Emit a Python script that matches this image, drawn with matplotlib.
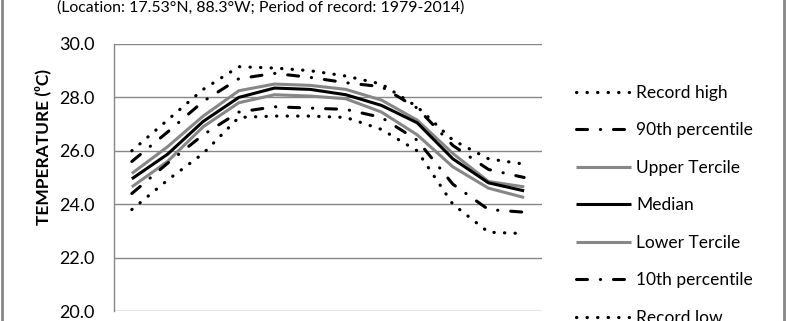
import matplotlib
matplotlib.use('Agg')
import matplotlib.pyplot as plt
from matplotlib.lines import Line2D

# monthly temperature climatology (deg C)
months = ['Jan', 'Feb', 'Mar', 'Apr', 'May', 'Jun',
          'Jul', 'Aug', 'Sep', 'Oct', 'Nov', 'Dec']
record_high = [26.0, 27.15, 28.3, 29.15, 29.1, 29.0, 28.8, 28.5, 27.65, 26.4, 25.7, 25.5]
p90 = [25.6, 26.7, 27.85, 28.7, 28.9, 28.75, 28.55, 28.4, 27.6, 26.2, 25.3, 25.0]
upper_tercile = [25.15, 26.15, 27.3, 28.25, 28.5, 28.45, 28.3, 27.9, 27.15, 25.9, 24.85, 24.65]
median = [24.95, 25.87, 27.1, 28.0, 28.35, 28.3, 28.1, 27.7, 27.05, 25.7, 24.8, 24.5]
lower_tercile = [24.65, 25.6, 26.9, 27.8, 28.1, 28.05, 27.95, 27.45, 26.6, 25.4, 24.6, 24.25]
p10 = [24.4, 25.53, 26.6, 27.45, 27.65, 27.6, 27.55, 27.25, 26.4, 24.75, 23.8, 23.7]
record_low = [23.8, 24.9, 25.9, 27.25, 27.3, 27.3, 27.25, 26.8, 26.0, 24.0, 22.95, 22.9]

title = '(Location: 17.53\u00b0N, 88.3\u00b0W; Period of record: 1979-2014)'
ylabel = 'TEMPERATURE (\u2070C)'

plt.rcParams['font.family'] = ['Lato', 'DejaVu Sans']

grey = '#878787'
dotted = (0, (0.1, 3.2))
dashdot = (0, (3.6, 4.2, 0.1, 4.2))

fig = plt.figure(figsize=(7.86, 3.21), dpi=100)
ax = fig.add_axes([114 / 786, 10 / 321, 428 / 786, 267 / 321])

x = list(range(len(months)))
series = [
    (record_high, 'Record high', 'black', dotted, 2.3),
    (p90, '90th percentile', 'black', dashdot, 2.2),
    (upper_tercile, 'Upper Tercile', grey, '-', 2.2),
    (median, 'Median', 'black', '-', 2.2),
    (lower_tercile, 'Lower Tercile', grey, '-', 2.2),
    (p10, '10th percentile', 'black', dashdot, 2.2),
    (record_low, 'Record low', 'black', dotted, 2.3),
]
for vals, name, col, ls, lw in series:
    ax.plot(x, vals, color=col, linestyle=ls, linewidth=lw, label=name,
            dash_capstyle='round', solid_capstyle='butt', solid_joinstyle='round')

ax.set_xlim(-0.5, len(months) - 0.5)
ax.set_ylim(20, 30)
ax.set_yticks([20, 22, 24, 26, 28, 30])
ax.set_yticklabels(['%.1f' % v for v in [20, 22, 24, 26, 28, 30]], fontsize=13)
ax.set_xticks([])
ax.tick_params(axis='y', length=0, pad=14)
ax.grid(axis='y', color=grey, linewidth=1)
ax.set_axisbelow(True)
for s in ['top', 'right', 'bottom']:
    ax.spines[s].set_visible(False)
ax.spines['left'].set_color(grey)
ax.spines['left'].set_linewidth(1)

fig.text(43 / 786, 1 - 147 / 321, ylabel, rotation=90, ha='center', va='center',
         fontsize=12.5, fontweight='bold')
fig.text(261 / 786, 1 - 11.5 / 321, title, ha='center', va='baseline', fontsize=11.4)

ax.legend(loc='upper left', bbox_to_anchor=(567 / 786, 1 - 76 / 321),
          bbox_transform=fig.transFigure, frameon=False, fontsize=12.5,
          handlelength=3.2, handletextpad=0.3, labelspacing=1.24, borderpad=0)

# chart border (left and right edges visible)
fig.add_artist(Line2D([1.5 / 786, 1.5 / 786], [0, 1], transform=fig.transFigure,
                      color=grey, linewidth=2))
fig.add_artist(Line2D([784 / 786, 784 / 786], [0, 1], transform=fig.transFigure,
                      color=grey, linewidth=2))

fig.savefig('out.png', dpi=100)
